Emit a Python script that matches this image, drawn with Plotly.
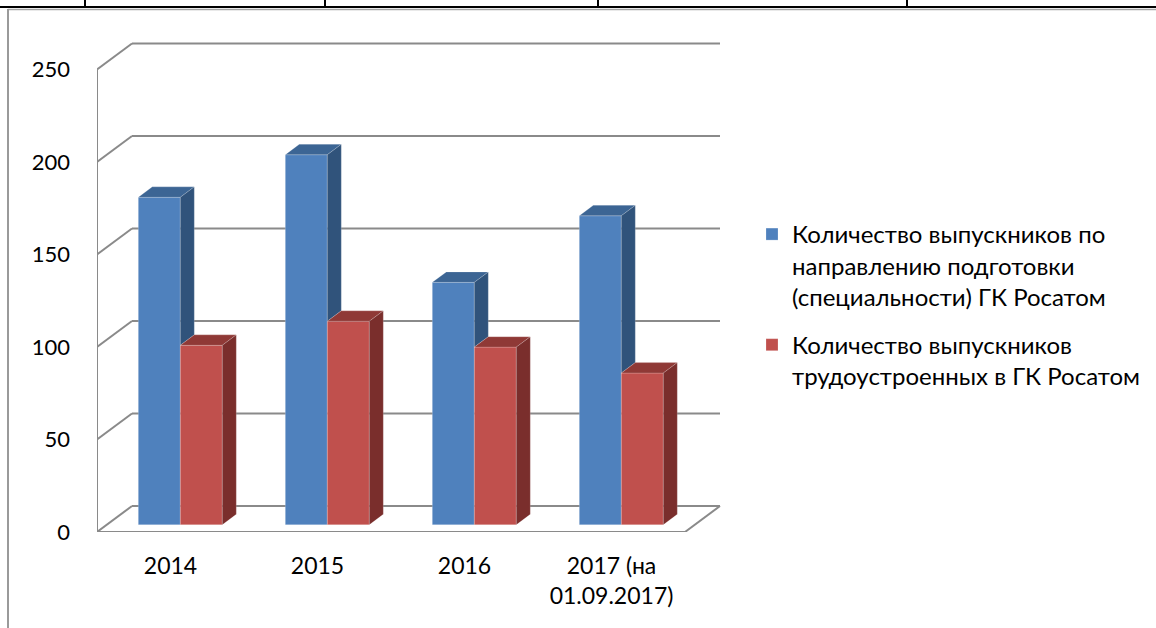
import plotly.graph_objects as go

# ---------------- data ----------------
categories = ["2014", "2015", "2016", "2017 (на<br>01.09.2017)"]
series_names = [
    "Количество выпускников по<br>направлению подготовки<br>(специальности) ГК Росатом",
    "Количество выпускников<br>трудоустроенных в ГК Росатом",
]
graduates = [177, 200, 131, 167]
employed = [97, 110, 96, 82]
y_ticks = [0, 50, 100, 150, 200, 250]

# ---------------- pseudo-3D geometry (in axis units) ----------------
PX_SLOT = 147.0          # pixels per category slot
PX_UNIT = 1.85           # pixels per value unit
WALL_DX = 35 / PX_SLOT   # depth offset of the back wall (slot units)
WALL_DV = 26 / PX_UNIT   # depth offset of the back wall (value units)
F0 = 0.28                # depth fraction of bar front
FD = 0.40                # bar depth fraction
BAR_W = 42 / PX_SLOT
DX = FD * WALL_DX
DV = FD * WALL_DV
BASE = F0 * WALL_DV
YMAX = max(y_ticks)
NCAT = len(categories)

front_cols = ["#4F81BD", "#C0504D"]
top_cols = ["#3C6594", "#8F3936"]
side_cols = ["#30537B", "#7A2E2C"]

centers = [k + 0.5 + F0 * WALL_DX for k in range(NCAT)]

fig = go.Figure()

series = [graduates, employed]
offsets = [-BAR_W, 0.0]
for s, vals in enumerate(series):
    fig.add_trace(go.Bar(
        x=centers, y=vals, base=[BASE] * NCAT, width=BAR_W, offset=offsets[s],
        name=series_names[s], marker=dict(color=front_cols[s],
                                          line=dict(width=0.6, color="rgba(255,255,255,0.35)")),
        legendgroup=str(s), hoverinfo="skip",
    ))

# top and side faces
for s, vals in enumerate(series):
    tx, ty, sx, sy = [], [], [], []
    for k, v in enumerate(vals):
        xl = centers[k] + offsets[s]
        xr = xl + BAR_W
        top = BASE + v
        tx += [xl, xr, xr + DX, xl + DX, xl, None]
        ty += [top, top, top + DV, top + DV, top, None]
        if s == 0:
            low = BASE + min(v, employed[k])
        else:
            low = BASE
        sx += [xr, xr + DX, xr + DX, xr, xr, None]
        sy += [low, low + DV, top + DV, top, low, None]
    fig.add_trace(go.Scatter(x=tx, y=ty, mode="lines", fill="toself", fillcolor=top_cols[s],
                             line=dict(width=0.6, color="rgba(255,255,255,0.3)"),
                             showlegend=False, hoverinfo="skip"))
    fig.add_trace(go.Scatter(x=sx, y=sy, mode="lines", fill="toself", fillcolor=side_cols[s],
                             line=dict(width=0.6, color="rgba(255,255,255,0.3)"),
                             showlegend=False, hoverinfo="skip"))

# walls / gridlines
GRID = dict(color="#8A8A8A", width=2)
shapes = []
for g in y_ticks:
    shapes.append(dict(type="line", xref="x", yref="y", x0=WALL_DX, x1=NCAT + WALL_DX,
                       y0=g + WALL_DV, y1=g + WALL_DV, line=GRID, layer="below"))
    shapes.append(dict(type="line", xref="x", yref="y", x0=0, x1=WALL_DX,
                       y0=g, y1=g + WALL_DV, line=GRID, layer="below"))
shapes.append(dict(type="line", xref="x", yref="y", x0=0, x1=0, y0=0, y1=YMAX, line=GRID, layer="below"))
shapes.append(dict(type="line", xref="x", yref="y", x0=0, x1=NCAT, y0=0, y1=0, line=GRID, layer="below"))
shapes.append(dict(type="line", xref="x", yref="y", x0=NCAT, x1=NCAT + WALL_DX, y0=0, y1=WALL_DV,
                   line=GRID, layer="below"))

# page decoration (table borders and chart frame)
W, H = 1156, 628
L, R, T, B = 97, 6, 0, 96
PW, PH = W - L - R, H - T - B


def px_x(p):
    return (p - L) / PW


def px_y(p):
    return (H - B - p) / PH


shapes.append(dict(type="line", xref="paper", yref="paper", x0=px_x(0), x1=px_x(W),
                   y0=px_y(7), y1=px_y(7), line=dict(color="#000000", width=2)))
for vx in [85, 325, 598, 907]:
    shapes.append(dict(type="line", xref="paper", yref="paper", x0=px_x(vx), x1=px_x(vx),
                       y0=px_y(0), y1=px_y(7), line=dict(color="#000000", width=2)))
shapes.append(dict(type="line", xref="paper", yref="paper", x0=px_x(8), x1=px_x(W),
                   y0=px_y(9.5), y1=px_y(9.5), line=dict(color="#A6A6A6", width=1.5)))
shapes.append(dict(type="line", xref="paper", yref="paper", x0=px_x(8), x1=px_x(8),
                   y0=px_y(9), y1=px_y(H), line=dict(color="#9A9A9A", width=2)))

FONT = "Lato, 'Open Sans', sans-serif"

fig.update_layout(
    width=W, height=H,
    margin=dict(l=L, r=R, t=T, b=B),
    paper_bgcolor="white", plot_bgcolor="white",
    barmode="overlay",
    shapes=shapes,
    font=dict(family=FONT, size=23, color="#000000"),
    xaxis=dict(range=[0, PW / PX_SLOT], tickvals=[k + 0.5 for k in range(NCAT)], ticktext=categories,
               showgrid=False, zeroline=False, showline=False, ticks="", ticklabelstandoff=18,
               tickfont=dict(size=23), fixedrange=True),
    yaxis=dict(range=[0, PH / PX_UNIT], tickvals=y_ticks, showgrid=False, zeroline=False,
               showline=False, ticks="", ticklabelstandoff=26, tickfont=dict(size=22),
               fixedrange=True),
    legend=dict(x=px_x(752), y=px_y(212), xanchor="left", yanchor="top", valign="top",
                bgcolor="rgba(0,0,0,0)", tracegroupgap=14, font=dict(size=24, family=FONT)),
    showlegend=True,
)

fig.write_html("out.html", config={"displayModeBar": False},
               post_script="document.body.style.margin='0';document.body.style.padding='0';")
